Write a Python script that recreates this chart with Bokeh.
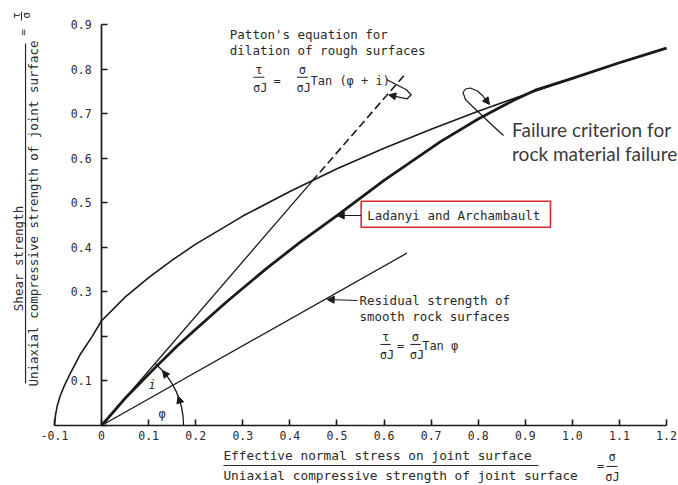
import math
from bokeh.plotting import figure
from bokeh.models import FixedTicker, Label, Arrow, NormalHead, Range1d, BoxAnnotation
from bokeh.embed import file_html
from bokeh.resources import INLINE

# ---------------- data ----------------
x_ticks = [-0.1, 0.0, 0.1, 0.2, 0.3, 0.4, 0.5, 0.6, 0.7, 0.8, 0.9, 1.0, 1.1, 1.2]
x_tick_labels = ["-0.1", "0", "0.1", "0.2", "0.3", "0.4", "0.5", "0.6", "0.7",
                 "0.8", "0.9", "1.0", "1.1", "1.2"]
y_ticks = [0.0, 0.1, 0.2, 0.3, 0.4, 0.5, 0.6, 0.7, 0.8, 0.9]
y_tick_labels = ["", "0.1", "", "0.3", "0.4", "0.5", "0.6", "0.7", "0.8", "0.9"]

# failure criterion for rock material failure
fail_x = [-0.1, -0.098, -0.094, -0.088, -0.08, -0.065, -0.045, -0.02, 0.0, 0.05, 0.1,
          0.15, 0.2, 0.3, 0.4, 0.5, 0.6, 0.7, 0.8, 0.9, 1.0, 1.1, 1.2]
fail_y = [0.0, 0.022, 0.045, 0.066, 0.087, 0.12, 0.16, 0.2, 0.235, 0.288, 0.332,
          0.371, 0.407, 0.47, 0.525, 0.576, 0.622, 0.665, 0.705, 0.743, 0.779, 0.814, 0.847]

# Ladanyi and Archambault
lad_x = [0.0, 0.05, 0.115, 0.16, 0.2, 0.264, 0.3, 0.35, 0.42, 0.5, 0.6, 0.72, 0.8,
         0.85, 0.88, 0.92, 1.0, 1.1, 1.2]
lad_y = [0.0, 0.061, 0.131, 0.178, 0.216, 0.276, 0.308, 0.352, 0.41, 0.471, 0.55,
         0.637, 0.688, 0.716, 0.732, 0.752, 0.779, 0.814, 0.847]

# residual strength of smooth rock surfaces
res_x = [0.0, 0.649]
res_y = [0.0, 0.387]

# Patton's equation (solid part, then dashed part)
patton_x = [0.0, 0.447, 0.642]
patton_y = [0.0, 0.548, 0.785]

# ---------------- styling ----------------
INK = "#1a1a1a"
TXT = "#2a2a2a"
MONO = "DejaVu Sans Mono"

W, H = 678, 485
X0, X1 = -0.2147, 1.2255
Y0, Y1 = -0.1347, 0.9538
p = figure(width=W, height=H, x_range=Range1d(X0, X1), y_range=Range1d(Y0, Y1),
           output_backend="svg", toolbar_location=None,
           min_border_left=0, min_border_right=0, min_border_top=0, min_border_bottom=0)
p.xgrid.visible = False
p.ygrid.visible = False
p.outline_line_color = None
p.background_fill_color = "white"
p.border_fill_color = "white"

for ax, ticks, labels in ((p.xaxis[0], x_ticks, x_tick_labels), (p.yaxis[0], y_ticks, y_tick_labels)):
    ax.ticker = FixedTicker(ticks=ticks)
    ax.major_label_overrides = dict(zip(ticks, labels))
    ax.minor_tick_line_color = None
    ax.major_tick_in = 6
    ax.major_tick_out = 0
    ax.axis_line_width = 1.7
    ax.axis_line_color = INK
    ax.major_tick_line_width = 1.6
    ax.major_tick_line_color = INK
    ax.major_label_text_font = MONO
    ax.major_label_text_font_size = "11.5px"
    ax.major_label_text_color = TXT
    ax.fixed_location = 0
p.xaxis.bounds = (x_ticks[0], x_ticks[-1])
p.yaxis.bounds = (y_ticks[0], y_ticks[-1])
p.xaxis.major_label_standoff = 6
p.yaxis.major_label_standoff = 10

# ---------------- curves ----------------
p.line(fail_x, fail_y, line_color=INK, line_width=1.6, line_join="round")
p.line(lad_x, lad_y, line_color=INK, line_width=2.8, line_join="round")
p.line(res_x, res_y, line_color=INK, line_width=1.3)
p.line(patton_x[:2], patton_y[:2], line_color=INK, line_width=1.3)
p.line(patton_x[1:], patton_y[1:], line_color=INK, line_width=1.6, line_dash="8 4")

# angle arcs (phi and i)
sx = W / (X1 - X0)
sy = H / (Y1 - Y0)
R = 82
ang_patton = math.degrees(math.atan(patton_y[-1] / patton_x[-1] * sy / sx))
p.arc(x=[0], y=[0], radius=R, radius_units="screen", start_angle=0,
      end_angle=math.radians(ang_patton), line_color=INK, line_width=1.3)


def polar(deg, r=R):
    t = math.radians(deg)
    return r * math.cos(t) / sx, r * math.sin(t) / sy


for a0, a1 in ((14, 21), (35, 42)):
    x0, y0 = polar(a0)
    x1, y1 = polar(a1)
    p.add_layout(Arrow(end=NormalHead(size=7, fill_color=INK, line_color=INK),
                       x_start=x0, y_start=y0, x_end=x1, y_end=y1, line_alpha=0))


def lab(x, y, text, size="12.5px", align="left", baseline="middle", angle=0,
        font=MONO, color=TXT, style="normal"):
    p.add_layout(Label(x=x, y=y, text=text, text_font_size=size, text_align=align,
                       text_baseline=baseline, angle=angle, text_font=font,
                       text_color=color, text_font_style=style))


def seg(x0, y0, x1, y1, w=1.2):
    p.add_layout(Arrow(end=None, x_start=x0, y_start=y0, x_end=x1, y_end=y1,
                       line_color=TXT, line_width=w))


def frac(xc, y_bar, num, den, half_w, size="12px"):
    lab(xc, y_bar + 0.016, num, size=size, align="center")
    lab(xc + 0.003, y_bar - 0.024, den, size=size, align="center")
    seg(xc - half_w, y_bar, xc + half_w, y_bar, 1.1)


lab(0.1075, 0.0898, "i", size="12px", align="center", style="italic")
lab(0.1288, 0.0263, "φ", size="12px", align="center")

# Patton annotation
lab(0.2724, 0.8768, "Patton's equation for")
lab(0.2724, 0.8416, "dilation of rough surfaces")
frac(0.334, 0.7816, "τ", "σJ", 0.012)
lab(0.373, 0.7742, "=", size="12px", align="center")
frac(0.4265, 0.7816, "σ", "σJ", 0.012)
lab(0.4438, 0.7742, "Tan (φ + i)", size="12px")
loop_px = [0.6052, 0.6477, 0.6577, 0.6492, 0.6314]
loop_py = [0.7765, 0.7534, 0.7421, 0.7332, 0.7368]
p.line(loop_px, loop_py, line_color=INK, line_width=1.3, line_join="round")
p.add_layout(Arrow(end=NormalHead(size=7, fill_color=INK, line_color=INK),
                   x_start=0.6314, y_start=0.7368, x_end=0.6101, y_end=0.7421,
                   line_color=INK, line_width=1.3))

# Failure criterion annotation
lab(0.872, 0.6643, "Failure criterion for", size="19px", font="Lato", color="#3b3b3b")
lab(0.872, 0.6104, "rock material failure", size="19px", font="Lato", color="#3b3b3b")
floop_x = [0.8538, 0.8304, 0.8085, 0.7879, 0.7730, 0.7677, 0.7730, 0.7836, 0.7985, 0.8112]
floop_y = [0.6508, 0.6733, 0.6957, 0.7159, 0.7316, 0.7473, 0.7552, 0.7574, 0.7507, 0.7383]
p.line(floop_x, floop_y, line_color=INK, line_width=1.2, line_join="round")
p.add_layout(Arrow(end=NormalHead(size=7, fill_color=INK, line_color=INK),
                   x_start=0.8112, y_start=0.7383, x_end=0.8240, y_end=0.7204,
                   line_color=INK, line_width=1.2))

# Ladanyi and Archambault
p.add_layout(BoxAnnotation(left=0.5514, right=0.9535, bottom=0.445, top=0.5034,
                           fill_alpha=0, line_color="#e0282e", line_alpha=1.0,
                           line_width=1.6))
lab(0.5642, 0.4713, "Ladanyi and Archambault")
p.add_layout(Arrow(end=NormalHead(size=7, fill_color=INK, line_color=INK),
                   x_start=0.5514, y_start=0.4713, x_end=0.5005, y_end=0.4713,
                   line_color=INK, line_width=1.2))

# Residual strength annotation
lab(0.5479, 0.2805, "Residual strength of")
lab(0.5479, 0.2453, "smooth rock surfaces")
p.add_layout(Arrow(end=NormalHead(size=7, fill_color=INK, line_color=INK),
                   x_start=0.5437, y_start=0.2805, x_end=0.4792, y_end=0.2828,
                   line_color=INK, line_width=1.2))
frac(0.6031, 0.1818, "τ", "σJ", 0.011)
lab(0.635, 0.1795, "=", size="12px", align="center")
frac(0.6668, 0.1818, "σ", "σJ", 0.011)
lab(0.681, 0.1795, "Tan φ", size="12px")

# x axis title (fraction)
lab(0.2588, -0.0673, "Effective normal stress on joint surface", size="12.8px")
seg(0.2588, -0.0898, 0.9279, -0.0898, 1.2)
lab(0.2588, -0.1122, "Uniaxial compressive strength of joint surface", size="12.8px")
lab(1.0599, -0.092, "=", size="12px", align="center")
lab(1.0843, -0.0718, "σ", size="12px", align="center")
seg(1.0726, -0.092, 1.0960, -0.092, 1.1)
lab(1.0854, -0.1167, "σJ", size="12px", align="center")

# y axis title (rotated fraction)
half = math.pi / 2
lab(-0.1765, 0.3748, "Shear strength", size="12.5px", align="center", angle=half)
seg(-0.1615, 0.0943, -0.1615, 0.8573, 1.2)
lab(-0.1448, 0.4758, "Uniaxial compressive strength of joint surface", size="12.5px",
    align="center", angle=half)
lab(-0.1658, 0.882, "=", size="11px", align="center", angle=half)
lab(-0.1807, 0.9201, "τ", size="11px", align="center", angle=half)
seg(-0.1701, 0.909, -0.1701, 0.929, 1.0)
lab(-0.1595, 0.9201, "σ", size="11px", align="center", angle=half)

open("out.html", "w").write(file_html(p, INLINE))
